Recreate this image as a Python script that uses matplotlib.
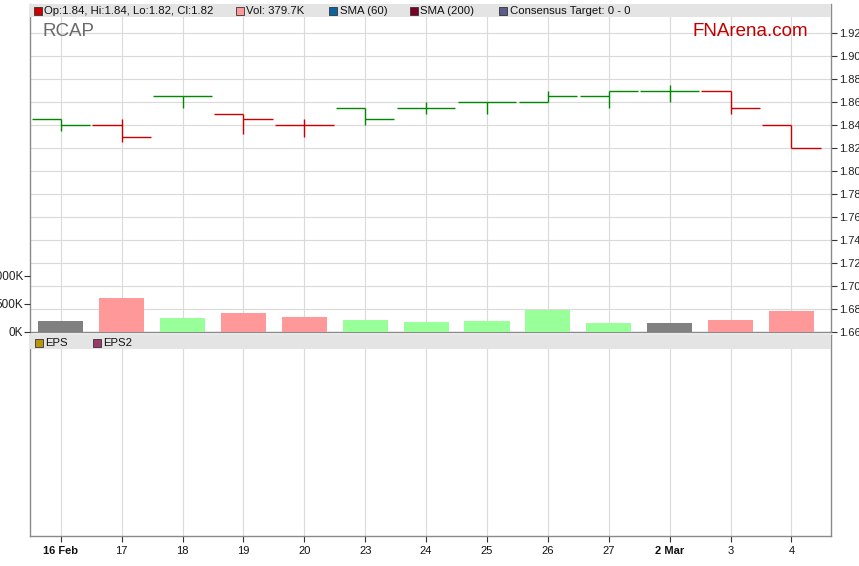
import matplotlib
matplotlib.use("Agg")
import matplotlib.pyplot as plt
from matplotlib.patches import Rectangle

# ---------------- data ----------------
dates = ["16 Feb", "17", "18", "19", "20", "23", "24", "25", "26", "27", "2 Mar", "3", "4"]
opens = [1.845, 1.84, 1.865, 1.85, 1.84, 1.855, 1.855, 1.86, 1.86, 1.865, 1.87, 1.87, 1.84]
highs = [1.845, 1.845, 1.865, 1.85, 1.845, 1.855, 1.86, 1.86, 1.87, 1.87, 1.875, 1.87, 1.84]
lows = [1.835, 1.825, 1.855, 1.832, 1.83, 1.84, 1.85, 1.85, 1.86, 1.855, 1.86, 1.85, 1.82]
closes = [1.84, 1.83, 1.865, 1.845, 1.84, 1.845, 1.855, 1.86, 1.865, 1.87, 1.87, 1.855, 1.82]
volumes = [191e3, 602e3, 245e3, 334e3, 262e3, 209e3, 173e3, 191e3, 393e3, 155e3, 166e3, 209e3, 379.7e3]
price_ticks = [1.66, 1.68, 1.70, 1.72, 1.74, 1.76, 1.78, 1.80, 1.82, 1.84, 1.86, 1.88, 1.90, 1.92]
vol_ticks = [0, 500e3, 1000e3]
vol_tick_labels = ["0K", "500K", "1000K"]
legend_top = [("#cc0000", "Op:1.84, Hi:1.84, Lo:1.82, Cl:1.82"),
              ("#ff9999", "Vol: 379.7K"),
              ("#0a64a0", "SMA (60)"),
              ("#7a0026", "SMA (200)"),
              ("#5c5c8a", "Consensus Target: 0 - 0")]
legend_top_x = [34, 236, 329, 410, 499]
legend_low = [("#b8960b", "EPS"), ("#9b3a6a", "EPS2")]
legend_low_x = [35, 93]

# ---------------- layout helpers ----------------
W, H = 859, 566
def fx(px):
    return px / W
def fy(py):
    return 1 - py / H

plt.rcParams['font.family'] = ['Liberation Sans', 'DejaVu Sans']

fig = plt.figure(figsize=(W / 100, H / 100), dpi=100)
fig.patch.set_facecolor("white")

L, R = 30, 831
P_TOP, P_BOT = 4, 332
LO_TOP, LO_BOT = 335, 536
xmin = -0.505
xmax = 12.65
grid_c = "#dadada"
spine_c = "#8a8a8a"

ax = fig.add_axes([fx(L), fy(P_BOT), fx(R) - fx(L), fy(P_TOP) - fy(P_BOT)])
ax_low = fig.add_axes([fx(L), fy(LO_BOT), fx(R) - fx(L), fy(LO_TOP) - fy(LO_BOT)])
axv = ax.twinx()

n = len(dates)
xs = list(range(n))

# price axis (right scale)
px_per_unit = 1150.0
ylo = 1.66
yhi = ylo + (P_BOT - P_TOP) / px_per_unit
ax.set_xlim(xmin, xmax)
ax.set_ylim(ylo, yhi)
ax.yaxis.tick_right()
ax.set_yticks(price_ticks)
ax.set_yticklabels([f"{t:.2f}" for t in price_ticks])
ax.tick_params(axis="y", which="both", left=False, labelleft=False, right=True, labelright=True,
               direction="out", length=4, width=0.8, color="#333333",
               labelsize=8, labelcolor="#222222", pad=1.5)
ax.set_xticks(xs)
ax.tick_params(axis="x", length=0, labelbottom=False)
ax.grid(True, color=grid_c, linewidth=0.8)
ax.set_axisbelow(True)
ax.spines["top"].set_visible(False)
for s in ["left", "right", "bottom"]:
    ax.spines[s].set_color(spine_c)
    ax.spines[s].set_linewidth(1.0)

# volume axis (left scale)
axv.set_xlim(xmin, xmax)
vmax = (P_BOT - P_TOP) / 28.0 * 500e3
axv.set_ylim(0, vmax)
axv.set_yticks(vol_ticks)
axv.set_yticklabels(vol_tick_labels)
axv.tick_params(axis="y", which="both", left=True, labelleft=True, right=False, labelright=False,
                direction="out", length=4, width=0.8, color="#333333",
                labelsize=8.5, labelcolor="#222222", pad=1)
for s in axv.spines.values():
    s.set_visible(False)

up_c, dn_c = "#008800", "#cc0000"
vup_c, vdn_c, vflat_c = "#99ff99", "#ff9999", "#808080"
for i in xs:
    prev = closes[i - 1] if i > 0 else None
    if prev is None or closes[i] >= prev:
        c = up_c
    else:
        c = dn_c
    if prev is None or closes[i] == prev:
        vc = vflat_c
    elif closes[i] > prev:
        vc = vup_c
    else:
        vc = vdn_c
    ax.vlines(i, lows[i], highs[i], color=c, linewidth=1.0, zorder=3)
    ax.hlines(opens[i], i - 0.48, i, color=c, linewidth=1.0, zorder=3)
    ax.hlines(closes[i], i, i + 0.48, color=c, linewidth=1.0, zorder=3)
    axv.bar(i, volumes[i], width=0.74, color=vc, zorder=2)

# top legend band
band_h = 13
axv.add_patch(Rectangle((fx(L), fy(P_TOP + band_h)), fx(R) - fx(L), fy(P_TOP) - fy(P_TOP + band_h),
                        transform=fig.transFigure, facecolor="#e4e4e4", edgecolor="none",
                        zorder=5, clip_on=False))
sq = 7.5
for (col, txt), x0 in zip(legend_top, legend_top_x):
    axv.add_patch(Rectangle((fx(x0), fy(P_TOP + 10.5)), fx(sq), fy(0) - fy(sq),
                            transform=fig.transFigure, facecolor=col, edgecolor="#333333",
                            linewidth=0.6, zorder=6, clip_on=False))
    fig.text(fx(x0 + 10.5), fy(P_TOP + 6.5), txt, fontsize=8.2, color="#111111",
             va="center", ha="left", zorder=7)

fig.text(fx(42), fy(32), "RCAP", fontsize=13.5, color="#6a6a6a", va="center", ha="left")
fig.text(fx(692), fy(32), "FNArena.com", fontsize=13.5, color="#c00000", va="center", ha="left")

# lower (EPS) panel
ax_low.set_xlim(xmin, xmax)
ax_low.set_ylim(0, 1)
ax_low.set_yticks([])
ax_low.set_xticks(xs)
labels = ax_low.set_xticklabels(dates)
for lab, d in zip(labels, dates):
    if " " in d:
        lab.set_fontweight("bold")
ax_low.tick_params(axis="x", direction="out", length=4, width=0.8, color="#333333",
                   labelsize=8, labelcolor="#111111", pad=3)
ax_low.grid(True, axis="x", color=grid_c, linewidth=0.8)
ax_low.set_axisbelow(True)
for s in ax_low.spines.values():
    s.set_color(spine_c)
    s.set_linewidth(1.0)
ax_low.add_patch(Rectangle((0, 1 - 14 / (LO_BOT - LO_TOP)), 1, 14 / (LO_BOT - LO_TOP),
                           transform=ax_low.transAxes, facecolor="#e4e4e4", edgecolor="none",
                           zorder=5))
for (col, txt), x0 in zip(legend_low, legend_low_x):
    ax_low.add_patch(Rectangle((fx(x0), fy(LO_TOP + 11.5)), fx(sq), fy(0) - fy(sq),
                               transform=fig.transFigure, facecolor=col, edgecolor="#333333",
                               linewidth=0.6, zorder=6, clip_on=False))
    fig.text(fx(x0 + 10.5), fy(LO_TOP + 7.5), txt, fontsize=8.2, color="#111111",
             va="center", ha="left", zorder=7)

fig.savefig("out.png", dpi=100)
